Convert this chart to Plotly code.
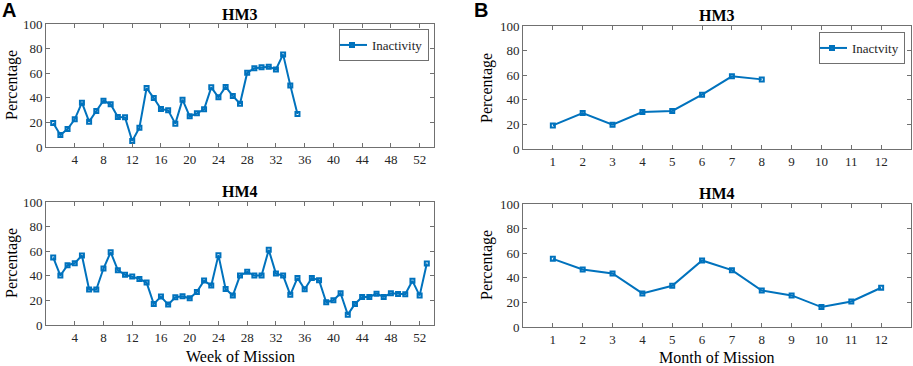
import plotly.graph_objects as go

# ---- data ----
weeks_hm3 = list(range(1, 36))
hm3_weekly = [19.5, 9.8, 14.6, 22.5, 36.0, 20.6, 29.3, 37.7, 34.7, 24.4,
              24.1, 4.9, 15.7, 48.0, 39.8, 30.9, 29.8, 19.0, 38.5, 24.9,
              27.4, 30.6, 48.5, 40.4, 48.8, 41.5, 35.2, 60.4, 64.0, 64.8,
              65.3, 63.1, 75.3, 50.1, 26.8]

weeks_hm4 = list(range(1, 54))
hm4_weekly = [54.9, 40.2, 48.6, 50.3, 56.5, 28.8, 28.8, 45.9, 59.2, 44.6,
              40.8, 39.4, 37.5, 34.5, 17.1, 23.1, 16.6, 22.6, 23.4, 21.7,
              26.9, 36.1, 32.1, 56.8, 29.3, 23.9, 40.2, 43.2, 40.2, 40.2,
              61.1, 41.8, 40.2, 24.5, 38.3, 29.1, 38.3, 36.4, 18.5, 20.1,
              25.8, 8.4, 17.1, 22.8, 22.8, 25.5, 22.8, 25.8, 25.3, 25.0,
              35.9, 23.9, 50.0]

months_hm3 = list(range(1, 9))
hm3_monthly = [19.2, 29.3, 19.8, 30.1, 30.9, 44.2, 59.1, 56.6]

months_hm4 = list(range(1, 13))
hm4_monthly = [55.4, 46.8, 43.5, 27.3, 33.5, 54.1, 46.2, 29.7, 25.7, 16.2, 20.8, 31.9]

week_ticks = list(range(4, 53, 4))
month_ticks = list(range(1, 13))
y_ticks = [0, 20, 40, 60, 80, 100]

# ---- style ----
W, H = 913, 366
BLUE = "#0072BD"
AX = "#707070"
TXT = "#262626"
SERIF = "Liberation Serif"

def px_x(p):
    return p / W

def px_y(p):
    return 1 - p / H

fig = go.Figure()

def trace(x, y, xa, ya, name, show, legend="legend"):
    fig.add_trace(go.Scatter(
        x=x, y=y, xaxis=xa, yaxis=ya, mode="lines+markers", name=name,
        showlegend=show, legend=legend,
        line=dict(color=BLUE, width=2),
        marker=dict(symbol="square-open", size=4, color=BLUE,
                    line=dict(color=BLUE, width=2)),
    ))

trace(weeks_hm3, hm3_weekly, "x", "y", "Inactivity", True, "legend")
trace(weeks_hm4, hm4_weekly, "x2", "y2", "Inactivity", False)
trace(months_hm3, hm3_monthly, "x3", "y3", "Inactvity", True, "legend2")
trace(months_hm4, hm4_monthly, "x4", "y4", "Inactvity", False)

common_ax = dict(showline=True, linecolor=AX, linewidth=1, mirror="allticks",
                 ticks="inside", ticklen=4, tickcolor=AX, showgrid=False,
                 zeroline=False, automargin=False,
                 tickfont=dict(family=SERIF, size=13, color=TXT))

left_dom = [px_x(46), px_x(434)]
right_dom = [px_x(523), px_x(911)]

legend_style = dict(xanchor="left", yanchor="top",
                    bordercolor=AX, borderwidth=1, bgcolor="white",
                    font=dict(family=SERIF, size=13, color=TXT),
                    itemwidth=30, tracegroupgap=0, indentation=-8)

fig.update_layout(
    template="none",
    width=W, height=H, margin=dict(l=0, r=0, t=0, b=0, pad=0, autoexpand=False),
    plot_bgcolor="white", paper_bgcolor="white",
    font=dict(family=SERIF, color=TXT),
    xaxis=dict(domain=left_dom, range=[0, 54], tickvals=week_ticks, anchor="y", **common_ax),
    yaxis=dict(domain=[px_y(147), px_y(24)], range=[0, 100], tickvals=y_ticks, anchor="x", **common_ax),
    xaxis2=dict(domain=left_dom, range=[0, 54], tickvals=week_ticks, anchor="y2", **common_ax),
    yaxis2=dict(domain=[px_y(325), px_y(202)], range=[0, 100], tickvals=y_ticks, anchor="x2", **common_ax),
    xaxis3=dict(domain=right_dom, range=[0, 13], tickvals=month_ticks, anchor="y3", **common_ax),
    yaxis3=dict(domain=[px_y(149), px_y(26)], range=[0, 100], tickvals=y_ticks, anchor="x3", **common_ax),
    xaxis4=dict(domain=right_dom, range=[0, 13], tickvals=month_ticks, anchor="y4", **common_ax),
    yaxis4=dict(domain=[px_y(327), px_y(204)], range=[0, 100], tickvals=y_ticks, anchor="x4", **common_ax),
    legend=dict(x=px_x(339), y=px_y(29), **legend_style),
    legend2=dict(x=px_x(819), y=px_y(32), **legend_style),
)

def ann(text, x, y, size, bold=False, angle=0, family=SERIF):
    fig.add_annotation(text=f"<b>{text}</b>" if bold else text,
                       x=px_x(x), y=px_y(y), xref="paper", yref="paper",
                       xanchor="center", yanchor="middle", showarrow=False,
                       textangle=angle, font=dict(family=family, size=size, color="#000000"))

ann("HM3", 240, 14, 16, bold=True)
ann("HM4", 240, 191, 16, bold=True)
ann("HM3", 717, 15, 16, bold=True)
ann("HM4", 717, 193, 16, bold=True)
ann("A", 9, 10, 20, bold=True, family="Liberation Sans")
ann("B", 481, 10, 20, bold=True, family="Liberation Sans")
ann("Percentage", 12, 85, 16, angle=-90)
ann("Percentage", 12, 263, 16, angle=-90)
ann("Percentage", 487, 88, 16, angle=-90)
ann("Percentage", 487, 265, 16, angle=-90)
ann("Week of Mission", 240, 356, 16)
ann("Month of Mission", 717, 357, 16)

fig.write_html("out.html",
               config={"displayModeBar": False},
               post_script="document.body.style.margin='0';document.body.style.overflow='hidden';")
